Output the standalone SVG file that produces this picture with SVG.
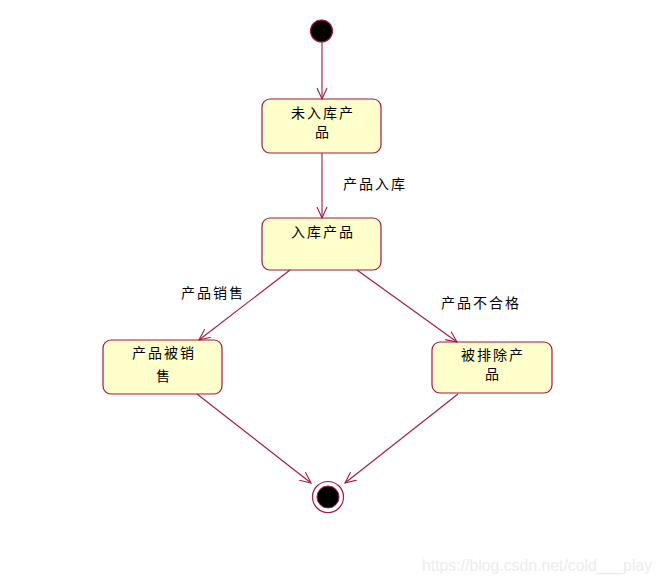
<svg xmlns="http://www.w3.org/2000/svg" width="662" height="583" viewBox="0 0 662 583">
<style>
.st{fill:#ffffcc;stroke:#a3174a;stroke-width:1.2}
.t{font-family:"Noto Sans CJK SC","Liberation Sans",sans-serif;font-size:14px;fill:#000;text-anchor:middle;letter-spacing:2px}
.c{stroke:#a3174a;stroke-width:1.1;fill:none}
.wm{font-family:"Liberation Sans",Arial,sans-serif;font-size:15.8px;fill:#ececec}
</style>
<defs>
<marker id="arr" viewBox="0 0 12 12" refX="11" refY="6" markerWidth="12" markerHeight="12" markerUnits="userSpaceOnUse" orient="auto">
<path d="M0,1 L11,6 L0,11" fill="none" stroke="#a3174a" stroke-width="1.1"/>
</marker>
</defs>
<rect width="662" height="583" fill="#fff"/>
<g id="start"><circle cx="321.5" cy="31" r="11" fill="#000" stroke="#a3174a" stroke-width="1.2"/></g>
<g id="n1"><rect class="st" x="262" y="99" width="119" height="54" rx="8"/>
<text class="t" x="323" y="118">未入库产</text><text class="t" x="323" y="137">品</text></g>
<g id="n2"><rect class="st" x="262" y="218" width="119" height="52" rx="8"/>
<text class="t" x="323" y="237">入库产品</text></g>
<g id="n3"><rect class="st" x="103" y="340" width="119" height="54" rx="8"/>
<text class="t" x="164" y="358">产品被销</text><text class="t" x="164" y="381">售</text></g>
<g id="n4"><rect class="st" x="432" y="342" width="120" height="51" rx="8"/>
<text class="t" x="493" y="360">被排除产</text><text class="t" x="493" y="379">品</text></g>
<g id="end"><circle cx="328" cy="497" r="15.5" fill="#fff" stroke="#a3174a" stroke-width="1.2"/><circle cx="328" cy="497" r="11" fill="#000" stroke="#a3174a" stroke-width="1"/></g>
<g id="connectors">
<line class="c" x1="322" y1="42" x2="322" y2="99" marker-end="url(#arr)"/>
<line class="c" x1="322" y1="153" x2="322" y2="218" marker-end="url(#arr)"/>
<line class="c" x1="290" y1="270" x2="199" y2="340" marker-end="url(#arr)"/>
<line class="c" x1="357" y1="270" x2="457" y2="342" marker-end="url(#arr)"/>
<line class="c" x1="197" y1="394" x2="311" y2="483" marker-end="url(#arr)"/>
<line class="c" x1="458" y1="394" x2="345" y2="483" marker-end="url(#arr)"/>
</g>
<g id="labels">
<text class="t" x="375" y="189">产品入库</text>
<text class="t" x="213" y="298">产品销售</text>
<text class="t" x="481" y="308">产品不合格</text>
</g>
<text class="wm" x="422" y="571">https://blog.csdn.net/cold___play</text>
</svg>
